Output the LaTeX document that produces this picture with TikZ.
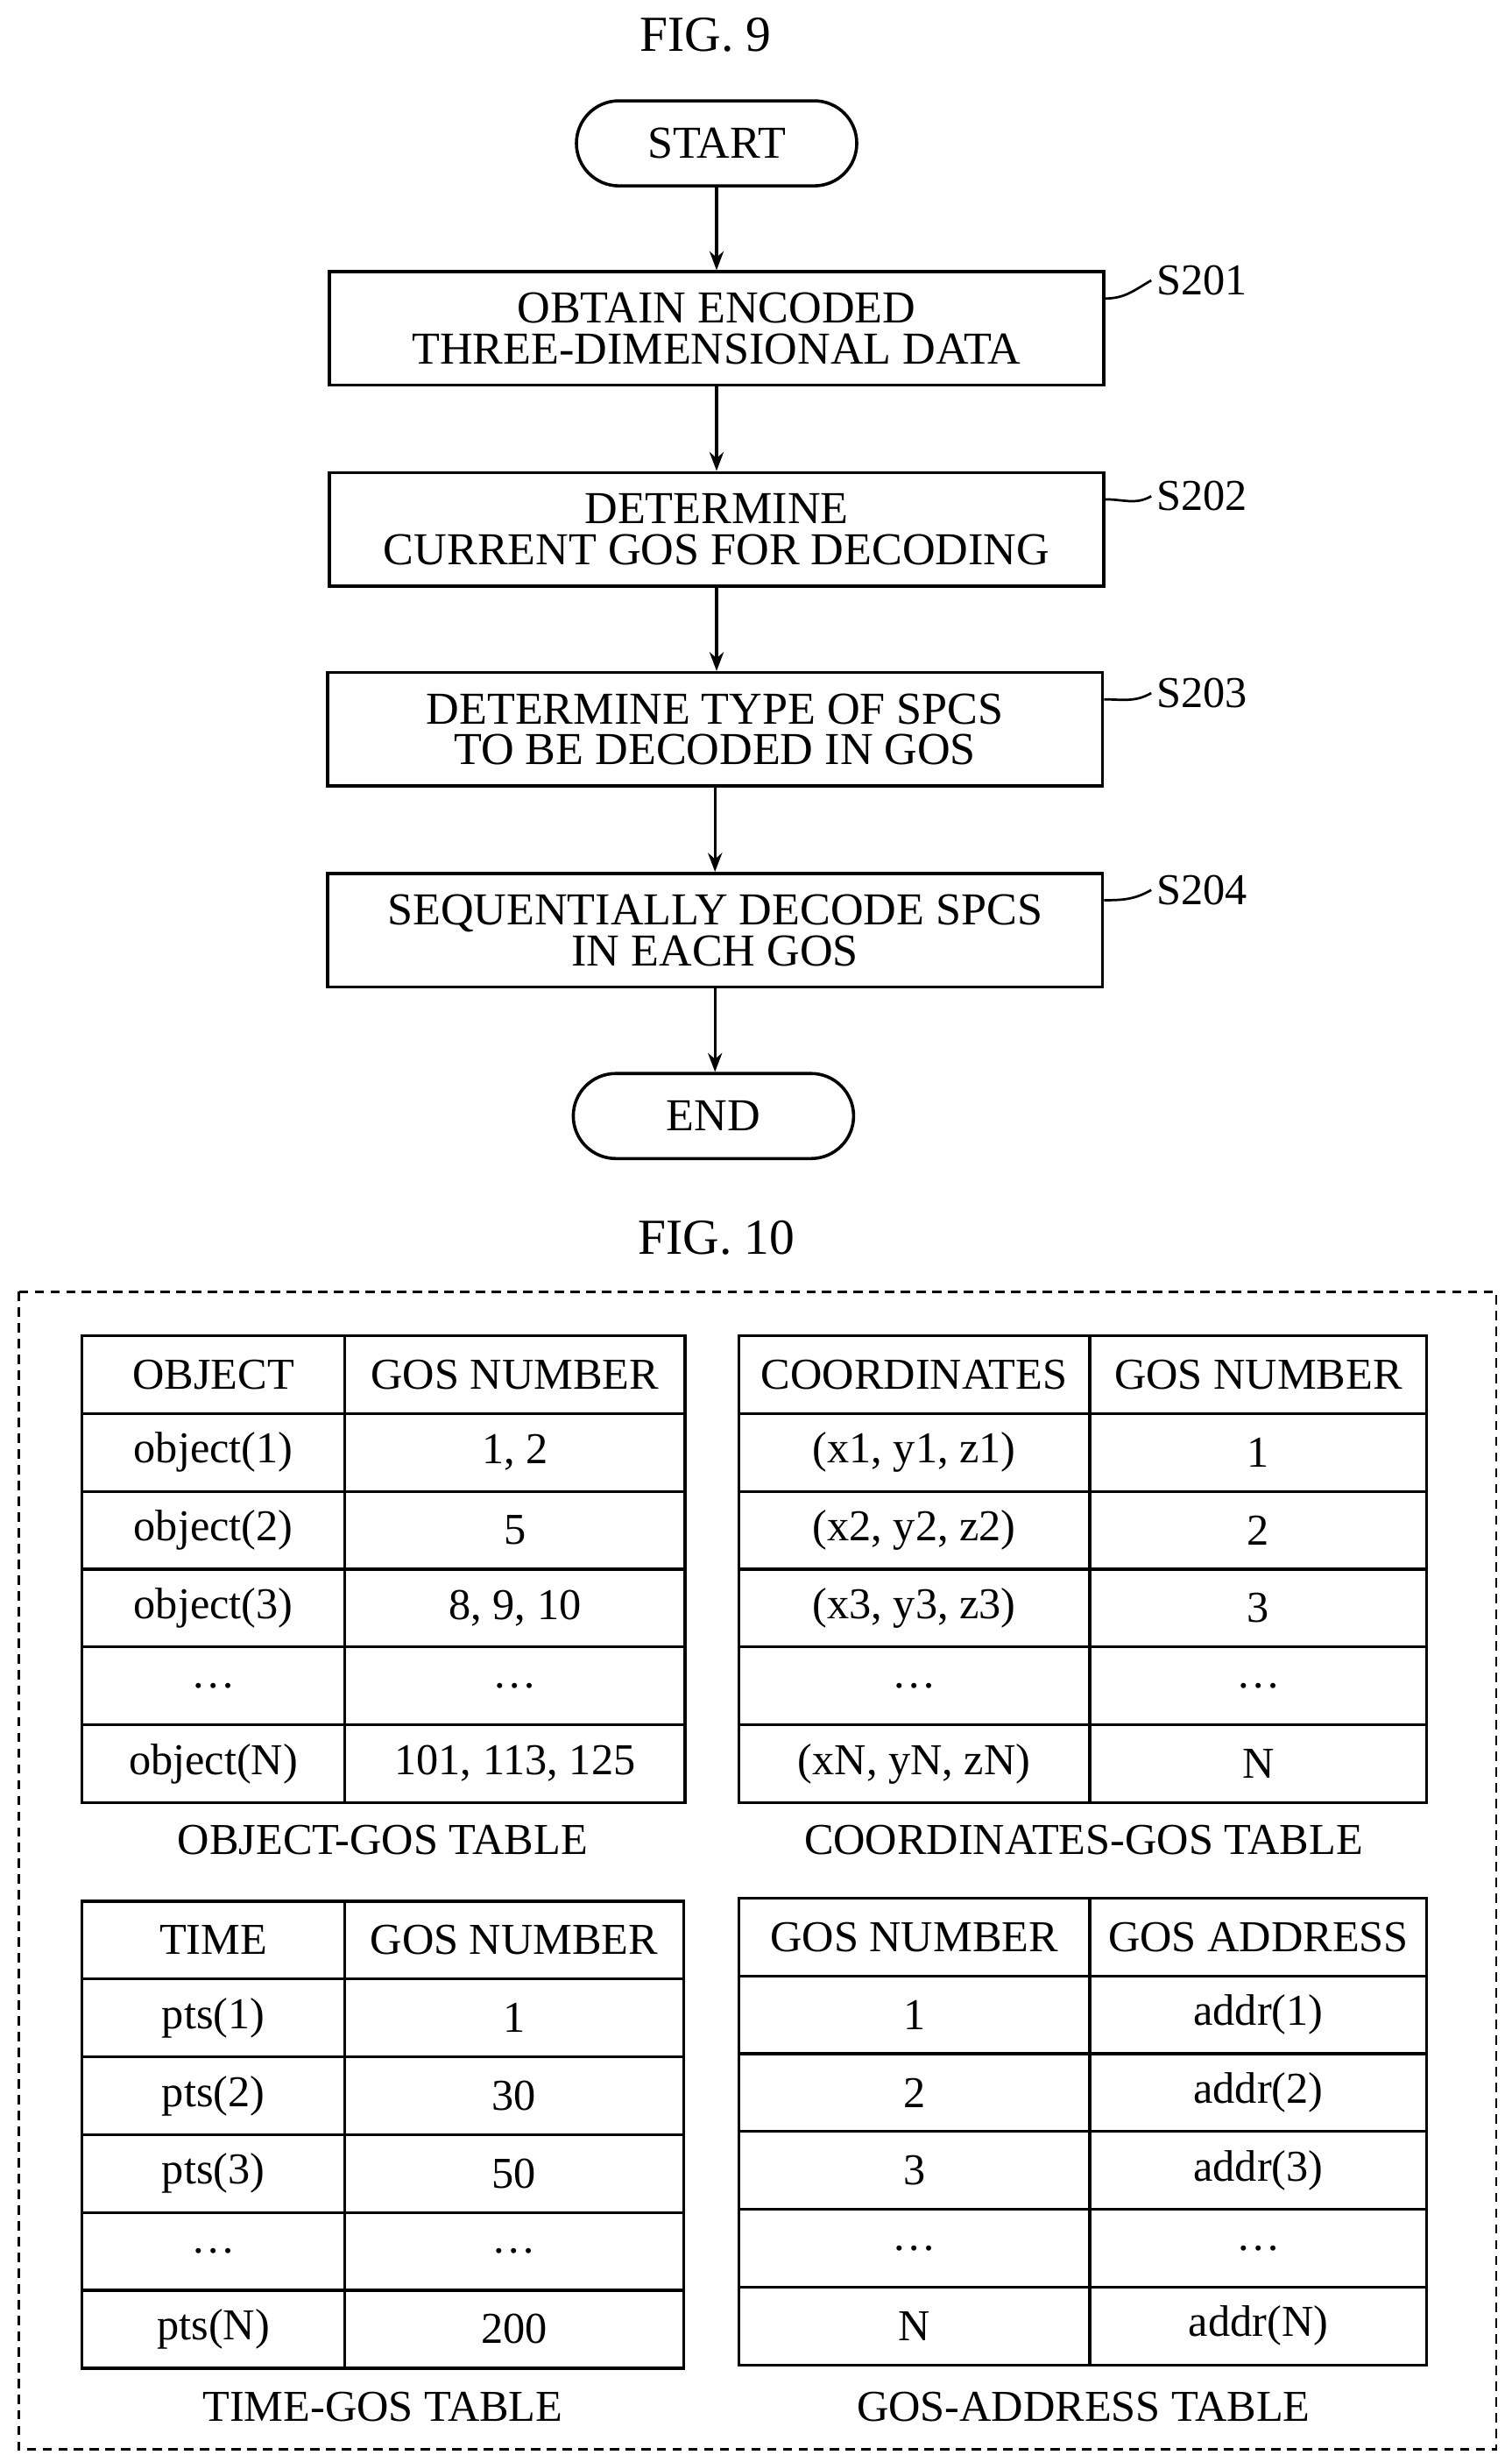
\documentclass[tikz,border=0pt]{standalone}
\usepackage{fontspec}
\setmainfont{Liberation Serif}
\usetikzlibrary{positioning,arrows.meta}
\tikzset{
  procbox/.style={draw,line width=2pt,minimum width=492pt,minimum height=72pt,align=center,font=\fontsize{29}{26}\selectfont,inner sep=2pt},
  term/.style={draw,line width=2pt,rounded corners=27pt,minimum width=178pt,minimum height=54pt,font=\fontsize{29}{29}\selectfont},
  flow/.style={-{Stealth[length=12pt,width=9pt]},line width=1.8pt},
  tag/.style={font=\fontsize{28}{28}\selectfont},
  cell/.style={font=\fontsize{28}{28}\selectfont,inner sep=0pt},
}
\newcommand{\gostable}[5]{% x0, x1, x2, y0, rows
  \foreach \a/\b [count=\i from 0] in {#5}{
    \draw[line width=1.8pt] (#1,#4+\i*49.4) rectangle (#2,#4+\i*49.4+49.4);
    \draw[line width=1.8pt] (#2,#4+\i*49.4) rectangle (#3,#4+\i*49.4+49.4);
    \node[cell] at ({(#1+#2)/2},#4+\i*49.4+24.7) {\a};
    \node[cell] at ({(#2+#3)/2},#4+\i*49.4+24.7) {\b};
  }
}
\begin{document}
\begin{tikzpicture}[x=1pt,y=-1pt]
\useasboundingbox (0,0) rectangle (960,1563);
% FIG. 9
\node[tag,font=\fontsize{32}{32}\selectfont] (fig9) at (448,22) {FIG. 9};
\node[term] (start) at (455,91) {START};
\node[procbox] (s201) at (455,208.5) {OBTAIN ENCODED\\THREE-DIMENSIONAL DATA};
\node[procbox] (s202) at (455,336) {DETERMINE\\CURRENT GOS FOR DECODING};
\node[procbox] (s203) at (454,463) {DETERMINE TYPE OF SPCS\\TO BE DECODED IN GOS};
\node[procbox] (s204) at (454,590.5) {SEQUENTIALLY DECODE SPCS\\IN EACH GOS};
\node[term] (end) at (453,708.5) {END};
\draw[flow] (start) -- (start|-s201.north);
\draw[flow] (s201) -- (s201|-s202.north);
\draw[flow] (s202) -- (s202|-s203.north);
\draw[flow] (s203) -- (s203|-s204.north);
\draw[flow] (s204) -- (s204|-end.north);
% step labels
\foreach \s/\y in {s201/178,s202/315,s203/440,s204/565}{
  \node[tag,anchor=west] (l\s) at (731,\y) {\MakeUppercase{\s}};
  \draw[line width=1.5pt] (\s.north east) ++(0,18) to[out=0,in=210] (l\s.west);
}
% FIG. 10
\node[tag,font=\fontsize{32}{32}\selectfont] (fig10) at (455,786) {FIG. 10};
\draw[line width=1.6pt,dash pattern=on 6pt off 4pt] (12,820) rectangle (950,1555);
\gostable{52}{219}{435}{848}{OBJECT/GOS NUMBER,object(1)/{1, 2},object(2)/5,object(3)/{8, 9, 10},\dots/\dots,object(N)/{101, 113, 125}}
\node[cell] (cap1) at (243,1168) {OBJECT-GOS TABLE};
\gostable{469}{692}{906}{848}{COORDINATES/GOS NUMBER,{(x1, y1, z1)}/1,{(x2, y2, z2)}/2,{(x3, y3, z3)}/3,\dots/\dots,{(xN, yN, zN)}/N}
\node[cell] (cap2) at (688,1168) {COORDINATES-GOS TABLE};
\gostable{52}{219}{434}{1207}{TIME/GOS NUMBER,pts(1)/1,pts(2)/30,pts(3)/50,\dots/\dots,pts(N)/200}
\node[cell] (cap3) at (243,1528) {TIME-GOS TABLE};
\gostable{469}{692}{906}{1205}{GOS NUMBER/GOS ADDRESS,1/addr(1),2/addr(2),3/addr(3),\dots/\dots,N/addr(N)}
\node[cell] (cap4) at (688,1528) {GOS-ADDRESS TABLE};
\end{tikzpicture}
\end{document}
